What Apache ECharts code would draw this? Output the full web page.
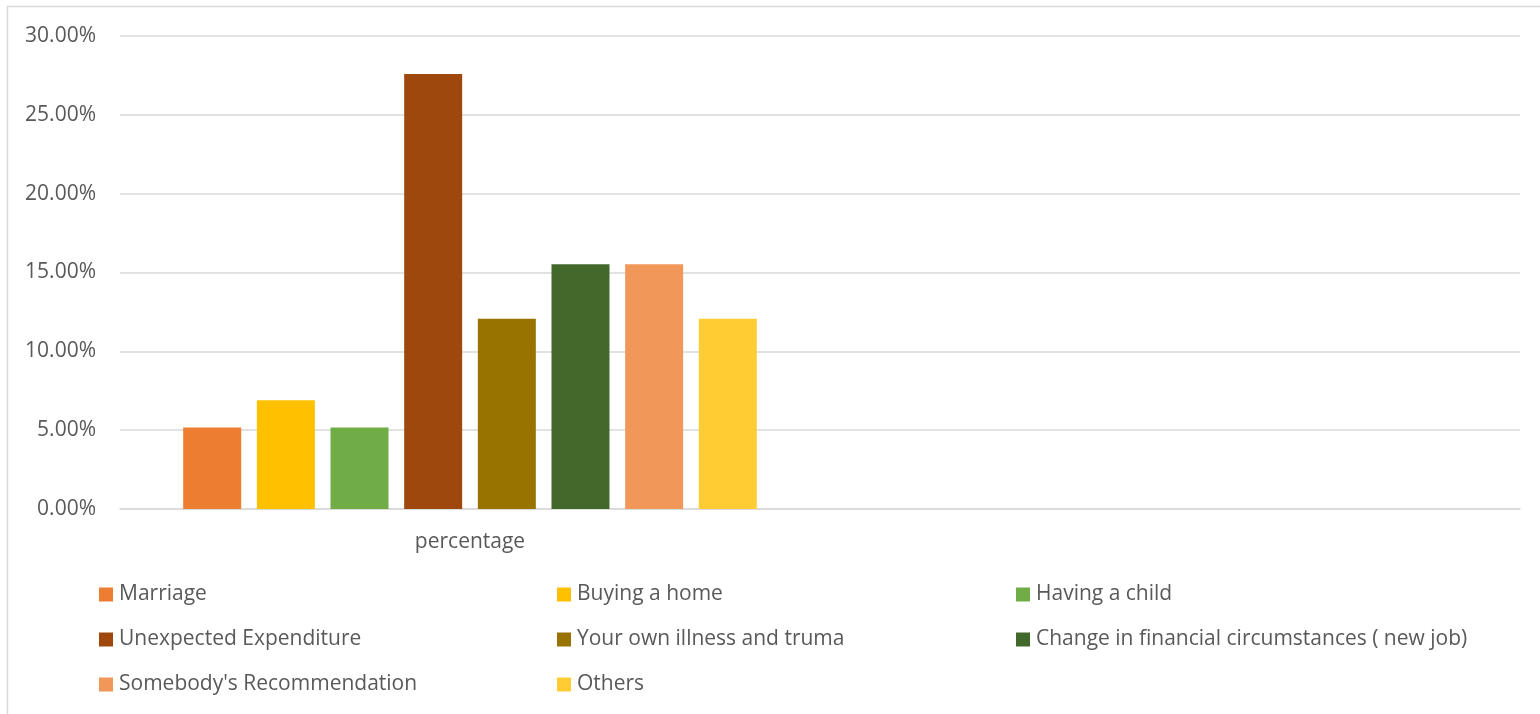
<!DOCTYPE html>
<html><head><meta charset="utf-8">
<script src="https://cdn.jsdelivr.net/npm/echarts@6/dist/echarts.min.js"></script>
<style>html,body{margin:0;padding:0;background:#fff}#c{width:1540px;height:714px}</style>
</head><body><div id="c"></div>
<script>
const categories = ['percentage', ''];
const seriesNames = ['Marriage','Buying a home','Having a child','Unexpected Expenditure','Your own illness and truma','Change in financial circumstances ( new job)',"Somebody's Recommendation",'Others'];
const seriesValues = [5.17, 6.90, 5.17, 27.59, 12.07, 15.52, 15.52, 12.07];
const colors = ['#ED7D31','#FFC000','#70AD47','#9E480E','#997300','#43682B','#F1975A','#FFCD33'];
const yTicks = [0, 5, 10, 15, 20, 25, 30];

const FONT = 'Open Sans';
const TXT = '#595959';
const chart = echarts.init(document.getElementById('c'));
const legendCols = [[0,3,6],[1,4,7],[2,5]];
const legendLeft = [99, 557, 1016];
chart.setOption({
  animation: false,
  color: colors,
  graphic: [{type:'rect', shape:{x:7.5,y:6.5,width:1600,height:800}, style:{fill:'none', stroke:'#d9d9d9', lineWidth:1.5}, silent:true}],
  grid: {left:120, right:20, top:36, bottom:205, containLabel:false},
  xAxis: {type:'category', data: categories,
    axisLine:{lineStyle:{color:'#d9d9d9', width:1.5}}, axisTick:{show:false},
    axisLabel:{color:TXT, fontFamily:FONT, fontSize:21, margin:23}},
  yAxis: {type:'value', min:yTicks[0], max:yTicks[yTicks.length-1], interval:5,
    axisLine:{show:false}, axisTick:{show:false},
    splitLine:{lineStyle:{color:'#d9d9d9', width:1.5}},
    axisLabel:{color:TXT, fontFamily:FONT, fontSize:21, margin:24, padding:[4,0,0,0], formatter: v => v.toFixed(2) + '%'}},
  legend: legendCols.map((col, i) => ({
    orient:'vertical', left: legendLeft[i], top: 584, padding:0, itemWidth:14, itemHeight:14, itemGap:24,
    icon:'rect', data: col.map(k => seriesNames[k]),
    textStyle:{color:TXT, fontFamily:FONT, fontSize:21, padding:[0,0,0,1]}
  })),
  series: seriesNames.map((n, i) => ({
    name:n, type:'bar', barWidth:58, barGap:'27%',
    data: categories.map((c, j) => j === 0 ? seriesValues[i] : null)
  }))
});
</script></body></html>
